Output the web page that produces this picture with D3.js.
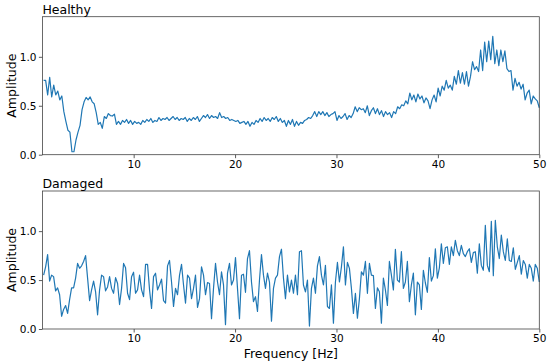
<!DOCTYPE html>
<html>
<head>
<meta charset="utf-8">
<script src="https://cdn.jsdelivr.net/npm/d3@7"></script>
<style>
  html, body { margin: 0; padding: 0; background: #fff; }
  svg text { font-family: "DejaVu Sans", sans-serif; }
</style>
</head>
<body>
<div id="chart"></div>
<script>
'use strict';

// spectrum amplitudes, roughly one value per 0.2 Hz
var healthy = [
  0.76, 0.76, 0.61, 0.79, 0.59, 0.71, 0.61, 0.65, 0.56, 0.60,
  0.44, 0.34, 0.25, 0.23, 0.03, 0.03, 0.15, 0.23, 0.30, 0.46,
  0.54, 0.585, 0.56, 0.59, 0.54, 0.52, 0.43, 0.31, 0.33, 0.27,
  0.39, 0.37, 0.42, 0.40, 0.395, 0.415, 0.31, 0.34, 0.31,
  0.35,
  0.33, 0.36, 0.32, 0.35, 0.31, 0.34, 0.32, 0.33, 0.31, 0.35,
  0.33, 0.36, 0.34, 0.37, 0.33, 0.35, 0.34, 0.38, 0.35, 0.37,
  0.36, 0.38, 0.35, 0.37, 0.39, 0.36, 0.38, 0.35, 0.37, 0.36,
  0.38, 0.34, 0.37, 0.35, 0.38, 0.36, 0.39, 0.34, 0.37, 0.40,
  0.38, 0.41, 0.37, 0.40, 0.38, 0.39, 0.37, 0.43, 0.38, 0.39,
  0.37, 0.38, 0.35, 0.36, 0.35, 0.34, 0.35, 0.32, 0.33, 0.34,
  0.31, 0.34, 0.29, 0.33, 0.31, 0.35, 0.33, 0.37, 0.34, 0.38,
  0.35, 0.37, 0.34, 0.38, 0.36, 0.39, 0.34, 0.37, 0.33, 0.35,
  0.29, 0.35, 0.31, 0.36, 0.29, 0.34, 0.30, 0.33, 0.32, 0.35,
  0.36, 0.38, 0.37, 0.40, 0.44, 0.39, 0.44, 0.41, 0.44, 0.40,
  0.43, 0.39, 0.41, 0.42, 0.44, 0.35, 0.40, 0.37, 0.39, 0.42,
  0.36, 0.40, 0.38, 0.42, 0.49, 0.44, 0.48, 0.46, 0.47, 0.43,
  0.50, 0.40, 0.45, 0.48, 0.42, 0.47, 0.41, 0.45, 0.39, 0.44,
  0.41, 0.43, 0.38, 0.44, 0.42, 0.49, 0.47, 0.51, 0.50, 0.55,
  0.52, 0.63, 0.56, 0.61, 0.54, 0.62, 0.57, 0.60, 0.53, 0.58,
  0.55, 0.47, 0.56, 0.61, 0.54, 0.68, 0.60, 0.70, 0.66, 0.76,
  0.68, 0.71, 0.66, 0.80, 0.72, 0.86, 0.73, 0.84, 0.72, 0.85,
  0.70, 0.80, 0.95, 0.87, 0.90, 0.85, 1.07, 0.86, 1.15, 0.95,
  1.16, 0.97, 1.21, 0.93, 1.07, 0.91, 1.07, 0.95, 1.06, 0.88,
  0.85, 0.86, 0.66, 0.78, 0.70, 0.74, 0.67, 0.72, 0.56, 0.63,
  0.66, 0.52, 0.60, 0.57, 0.55, 0.48
];

var damaged = [
  0.55, 0.635, 0.76, 0.49, 0.55, 0.535, 0.39, 0.42, 0.35, 0.13,
  0.20, 0.24, 0.16, 0.30, 0.42, 0.42, 0.52, 0.67, 0.62, 0.645,
  0.69, 0.75, 0.52, 0.29, 0.40, 0.49, 0.38, 0.145, 0.40, 0.55,
  0.535, 0.39, 0.43, 0.535, 0.415, 0.365, 0.525, 0.465, 0.25, 0.415,
  0.67, 0.625, 0.365, 0.30, 0.535, 0.58, 0.365, 0.40, 0.55, 0.40,
  0.33, 0.66, 0.66, 0.40, 0.21, 0.535, 0.57, 0.40, 0.45, 0.51,
  0.29, 0.265, 0.645, 0.70, 0.48, 0.23, 0.415, 0.35, 0.55, 0.66,
  0.45, 0.265, 0.55, 0.52, 0.31, 0.415, 0.55, 0.22, 0.31, 0.635,
  0.55, 0.35, 0.475, 0.465, 0.105, 0.415, 0.67, 0.48, 0.35, 0.585,
  0.45, 0.045, 0.57, 0.67, 0.45, 0.50, 0.73, 0.415, 0.105, 0.55,
  0.56, 0.375, 0.72, 0.80, 0.48, 0.28, 0.33, 0.18, 0.50, 0.76,
  0.55, 0.415, 0.57, 0.48, 0.08, 0.415, 0.52, 0.55, 0.74, 0.815,
  0.52, 0.31, 0.55, 0.38, 0.50, 0.365, 0.55, 0.35, 0.79, 0.80,
  0.45, 0.38, 0.50, 0.03, 0.415, 0.52, 0.365, 0.645, 0.74, 0.55,
  0.45, 0.65, 0.23, 0.21, 0.45, 0.06, 0.48, 0.68, 0.48, 0.635,
  0.84, 0.45, 0.68, 0.62, 0.415, 0.16, 0.365, 0.11, 0.31, 0.585,
  0.55, 0.69, 0.365, 0.67,
  0.55, 0.545, 0.21, 0.42, 0.38, 0.06, 0.52, 0.40, 0.24, 0.69,
  0.55, 0.40, 0.815, 0.50, 0.48, 0.79, 0.415, 0.48, 0.69, 0.28,
  0.45, 0.57, 0.145, 0.48, 0.45, 0.20, 0.60, 0.47, 0.375, 0.73,
  0.49, 0.545, 0.82, 0.52, 0.625, 0.87, 0.67, 0.83, 0.84, 0.66,
  0.84, 0.75, 0.905, 0.80, 0.75, 0.855, 0.77, 0.74, 0.79, 0.82,
  0.68, 0.78, 0.79, 0.57, 0.87, 0.65, 0.60, 1.06, 0.65, 0.585,
  1.10, 0.545, 1.11, 0.84, 0.72, 0.96, 0.79, 0.70, 0.92, 0.70,
  0.69, 0.83, 0.61, 0.68, 0.75, 0.56, 0.70, 0.66, 0.52, 0.66,
  0.62, 0.49, 0.66, 0.62, 0.48
];

var panelTitles = ['Healthy', 'Damaged'];
var xTicks = [10, 20, 30, 40, 50];
var yTicks = [0, 0.5, 1.0];
var freqStart = 1.12, freqEnd = 50;

var W = 550, H = 364;
var left = 42.4, right = 539.3, plotH = 138;
var tops = [16.7, 191];

function freqsFor(vals) {
    var step = (freqEnd - freqStart) / (vals.length - 1);
    return vals.map(function(v, i) { return { f: freqStart + i * step, a: v }; });
}

var svg = d3.select('#chart').append('svg')
    .attr('width', W)
    .attr('height', H);

var x = d3.scaleLinear().domain([1, 50]).range([left, right]);

[healthy, damaged].forEach(function(vals, k) {
    var top = tops[k];
    var y = d3.scaleLinear().domain([0, 1.41]).range([top + plotH, top]);
    var g = svg.append('g');

    var xAxis = g.append('g')
        .attr('transform', 'translate(0,' + (top + plotH) + ')')
        .call(d3.axisBottom(x).tickValues(xTicks).tickSize(3.5).tickPadding(2.5).tickFormat(d3.format('d')));
    var yAxis = g.append('g')
        .attr('transform', 'translate(' + left + ',0)')
        .call(d3.axisLeft(y).tickValues(yTicks).tickSize(3.5).tickPadding(2.5).tickFormat(d3.format('.1f')));

    [xAxis, yAxis].forEach(function(a) {
        a.select('.domain').remove();
        a.selectAll('.tick line').attr('stroke', '#333').attr('stroke-width', 0.8);
        a.selectAll('.tick text')
            .attr('fill', '#000')
            .style('font-size', '10.5px')
            .style('font-family', '"DejaVu Sans", sans-serif');
    });

    var line = d3.line()
        .x(function(d) { return x(d.f); })
        .y(function(d) { return y(d.a); });

    g.append('path')
        .datum(freqsFor(vals))
        .attr('fill', 'none')
        .attr('stroke', '#1f77b4')
        .attr('stroke-width', 1.2)
        .attr('stroke-linejoin', 'round')
        .attr('d', line);

    g.append('rect')
        .attr('x', left)
        .attr('y', top)
        .attr('width', right - left)
        .attr('height', plotH)
        .attr('fill', 'none')
        .attr('stroke', '#444')
        .attr('stroke-width', 0.8);

    g.append('text')
        .attr('x', left)
        .attr('y', top - 3)
        .style('font-size', '12.5px')
        .text(panelTitles[k]);

    g.append('text')
        .attr('transform', 'translate(15.5,' + (top + plotH / 2) + ') rotate(-90)')
        .attr('text-anchor', 'middle')
        .style('font-size', '12.5px')
        .text('Amplitude');
});

svg.append('text')
    .attr('x', (left + right) / 2)
    .attr('y', 357.5)
    .attr('text-anchor', 'middle')
    .style('font-size', '12.5px')
    .text('Frequency [Hz]');
</script>
</body>
</html>
